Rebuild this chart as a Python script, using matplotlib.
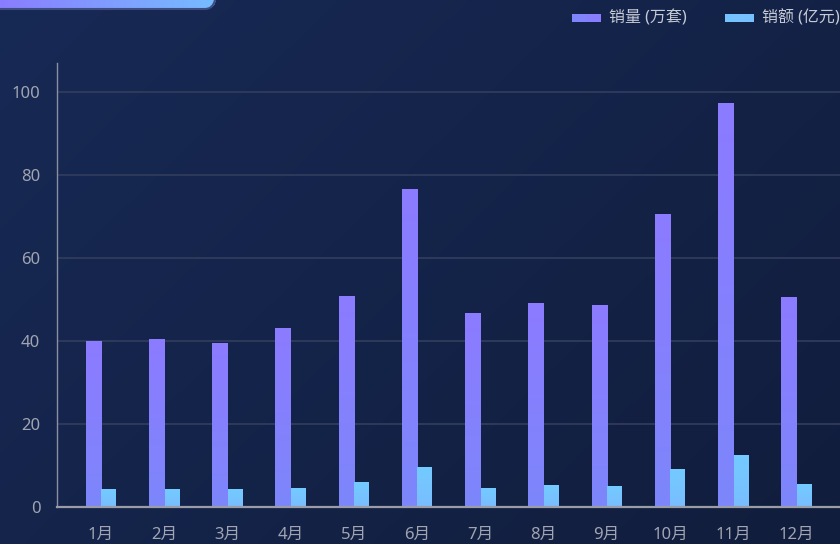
import numpy as np
import matplotlib
matplotlib.use('Agg')
import matplotlib.pyplot as plt
import matplotlib.patches as mpatches
from matplotlib.colors import LinearSegmentedColormap

plt.rcParams['font.family'] = ['Noto Sans', 'Noto Sans CJK SC', 'DejaVu Sans']

months = ['1月', '2月', '3月', '4月', '5月', '6月', '7月', '8月', '9月', '10月', '11月', '12月']
volume = [40.0, 40.5, 39.5, 43.1, 50.8, 76.6, 46.7, 49.2, 48.7, 70.6, 97.3, 50.6]
amount = [4.3, 4.3, 4.3, 4.6, 6.0, 9.6, 4.6, 5.3, 5.1, 9.2, 12.5, 5.5]
series_names = ['销量 (万套)', '销额 (亿元)']
yticks = [0, 20, 40, 60, 80, 100]

W, H = 840, 544
fig = plt.figure(figsize=(W / 100, H / 100), dpi=100)

# background panel, drawn in pixel coordinates
bg = fig.add_axes([0, 0, 1, 1], zorder=-5)
bg.set_xlim(0, W)
bg.set_ylim(H, 0)
bg.axis('off')
gx, gy = np.meshgrid(np.linspace(0, 1, 200), np.linspace(0, 1, 130))
t = (gx * 0.6 + gy * 0.4)
c0 = np.array([0x17, 0x29, 0x55]) / 255
c1 = np.array([0x11, 0x1d, 0x3c]) / 255
grad = c0[None, None, :] * (1 - t[..., None]) + c1[None, None, :] * t[..., None]
bg.imshow(grad, extent=[0, W, H, 0], aspect='auto', interpolation='bilinear')

# title tab in the upper-left corner
tab = mpatches.FancyBboxPatch((-20, -20), 236, 29, boxstyle='round,pad=0,rounding_size=11',
                              facecolor='none', edgecolor='#3d4d82', lw=1.5)
bg.add_patch(tab)
tab_cmap = LinearSegmentedColormap.from_list('tab', ['#8a7dff', '#76bcff'])
im = bg.imshow(np.linspace(0, 1, 100)[None, :], cmap=tab_cmap, extent=[0, 216, 9, -20],
               aspect='auto', interpolation='bilinear')
im.set_clip_path(tab)

# legend
legend_items = [(572, series_names[0], ['#7e86fc', '#8a7cff']),
                (725, series_names[1], ['#74c4ff', '#78c0ff'])]
for x0, name, cols in legend_items:
    r = mpatches.Rectangle((x0, 14), 29, 8, facecolor='none', edgecolor='none')
    bg.add_patch(r)
    li = bg.imshow(np.linspace(0, 1, 20)[None, :], cmap=LinearSegmentedColormap.from_list('l', cols),
                   extent=[x0, x0 + 29, 22, 14], aspect='auto')
    li.set_clip_path(r)
    bg.text(x0 + 37, 18, name, color='#c6cad5', fontsize=11.5, va='center', ha='left')

# main chart
left, bottom, top = 57, 507, 63
ax = fig.add_axes([left / W, (H - bottom) / H, 1 - left / W, (bottom - top) / H])
ax.patch.set_alpha(0)
ymax = 100 * (bottom - top) / (bottom - 92)

x = np.arange(len(months))
bw = 0.24
bars_v = ax.bar(x - bw / 2, volume, width=bw, color='none', zorder=3)
bars_a = ax.bar(x + bw / 2, amount, width=bw * 0.95, color='none', zorder=3)

cm_v = LinearSegmentedColormap.from_list('v', ['#7d86fb', '#8c7bff'])
cm_a = LinearSegmentedColormap.from_list('a', ['#79bdff', '#73cbff'])
for bars, cm in ((bars_v, cm_v), (bars_a, cm_a)):
    for b in bars:
        bx, by = b.get_x(), b.get_y()
        bwid, bh = b.get_width(), b.get_height()
        g = ax.imshow(np.linspace(0, 1, 64)[:, None], cmap=cm, origin='lower',
                      extent=[bx, bx + bwid, by, by + bh], aspect='auto', zorder=3,
                      interpolation='bilinear')
        g.set_clip_path(b)

ax.set_aspect('auto')
ax.set_xlim(-0.696, 11.69)
ax.set_ylim(0, ymax)

ax.set_yticks(yticks)
ax.set_xticks(x)
ax.set_xticklabels(months)
ax.tick_params(axis='both', length=0, labelsize=12, colors='#a1a5b2')
ax.tick_params(axis='y', pad=12)
ax.tick_params(axis='x', pad=14)
ax.grid(axis='y', color='#333e5e', lw=1.2, zorder=1)
ax.set_axisbelow(True)

for s in ('top', 'right'):
    ax.spines[s].set_visible(False)
ax.spines['left'].set_color('#8a90a1')
ax.spines['left'].set_linewidth(1.0)
ax.spines['bottom'].set_color('#9a9da8')
ax.spines['bottom'].set_linewidth(1.6)
ax.spines['bottom'].set_zorder(4)

fig.savefig('out.png', dpi=100)
